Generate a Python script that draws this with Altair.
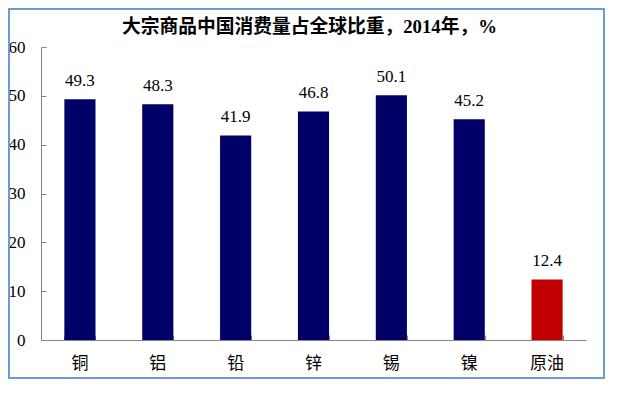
import altair as alt
import pandas as pd

categories = ["铜", "铝", "铅", "锌", "锡", "镍", "原油"]
shares = [49.3, 48.3, 41.9, 46.8, 50.1, 45.2, 12.4]
y_ticks = [0, 10, 20, 30, 40, 50, 60]

df = pd.DataFrame({"cat": categories, "val": shares})
df["lbl"] = [f"{v:.1f}" for v in shares]

num_font = "Liberation Serif"
title_font = "Liberation Serif, Noto Sans CJK SC"
cjk = "Noto Sans CJK SC"

W, H = 545, 293

xscale = alt.Scale(domain=categories, paddingInner=0.6, paddingOuter=0.3)
yscale = alt.Scale(domain=[0, 60], nice=False)

bars = alt.Chart(df).mark_bar().encode(
    x=alt.X("cat:N", sort=categories, scale=xscale, title=None,
            axis=alt.Axis(orient="bottom", ticks=False, domain=True, domainColor="#868686",
                          labelAngle=0, labelFont=cjk, labelFontSize=17, labelColor="#000000",
                          labelPadding=15)),
    y=alt.Y("val:Q", scale=yscale, title=None,
            axis=alt.Axis(orient="left", values=y_ticks, ticks=False, domain=True,
                          domainColor="#868686", grid=False, labelFont=num_font, labelFontSize=17,
                          labelColor="#000000", labelPadding=16)),
    color=alt.condition(alt.datum.cat == "原油", alt.value("#C00000"), alt.value("#000066")),
)

text = alt.Chart(df).mark_text(font=num_font, fontSize=17, dy=-13, baseline="alphabetic",
                               color="#000000").encode(
    x=alt.X("cat:N", sort=categories, scale=xscale, title=None,
            axis=alt.Axis(orient="bottom", offset=-5, domain=False, labels=False, ticks=True,
                          tickSize=5, tickColor="#868686", tickBand="extent")),
    y=alt.Y("val:Q", scale=yscale, title=None,
            axis=alt.Axis(orient="left", offset=-5, values=y_ticks, domain=False, labels=False,
                          ticks=True, tickSize=5, tickColor="#868686", grid=False)),
    text="lbl:N",
)

frame = alt.Chart(df).mark_rect(fillOpacity=0, stroke="#6A9BD2", strokeWidth=2).encode(
    x=alt.value(-32), x2=alt.value(563), y=alt.value(-38), y2=alt.value(331)
)

chart = alt.layer(bars, text, frame).resolve_axis(x="independent", y="independent").properties(
    width=W, height=H,
    autosize=alt.AutoSizeParams(type="none"),
    padding={"left": 33, "top": 39, "right": 23, "bottom": 47},
    title=alt.TitleParams("大宗商品中国消费量占全球比重，2014年，%", font=title_font, fontSize=18.75,
                          fontWeight="bold", color="#000000", anchor="middle", dx=-4,
                          offset=-29),
).configure_view(stroke=None)

chart.save("out.html", embed_options={"renderer": "svg", "actions": False})
